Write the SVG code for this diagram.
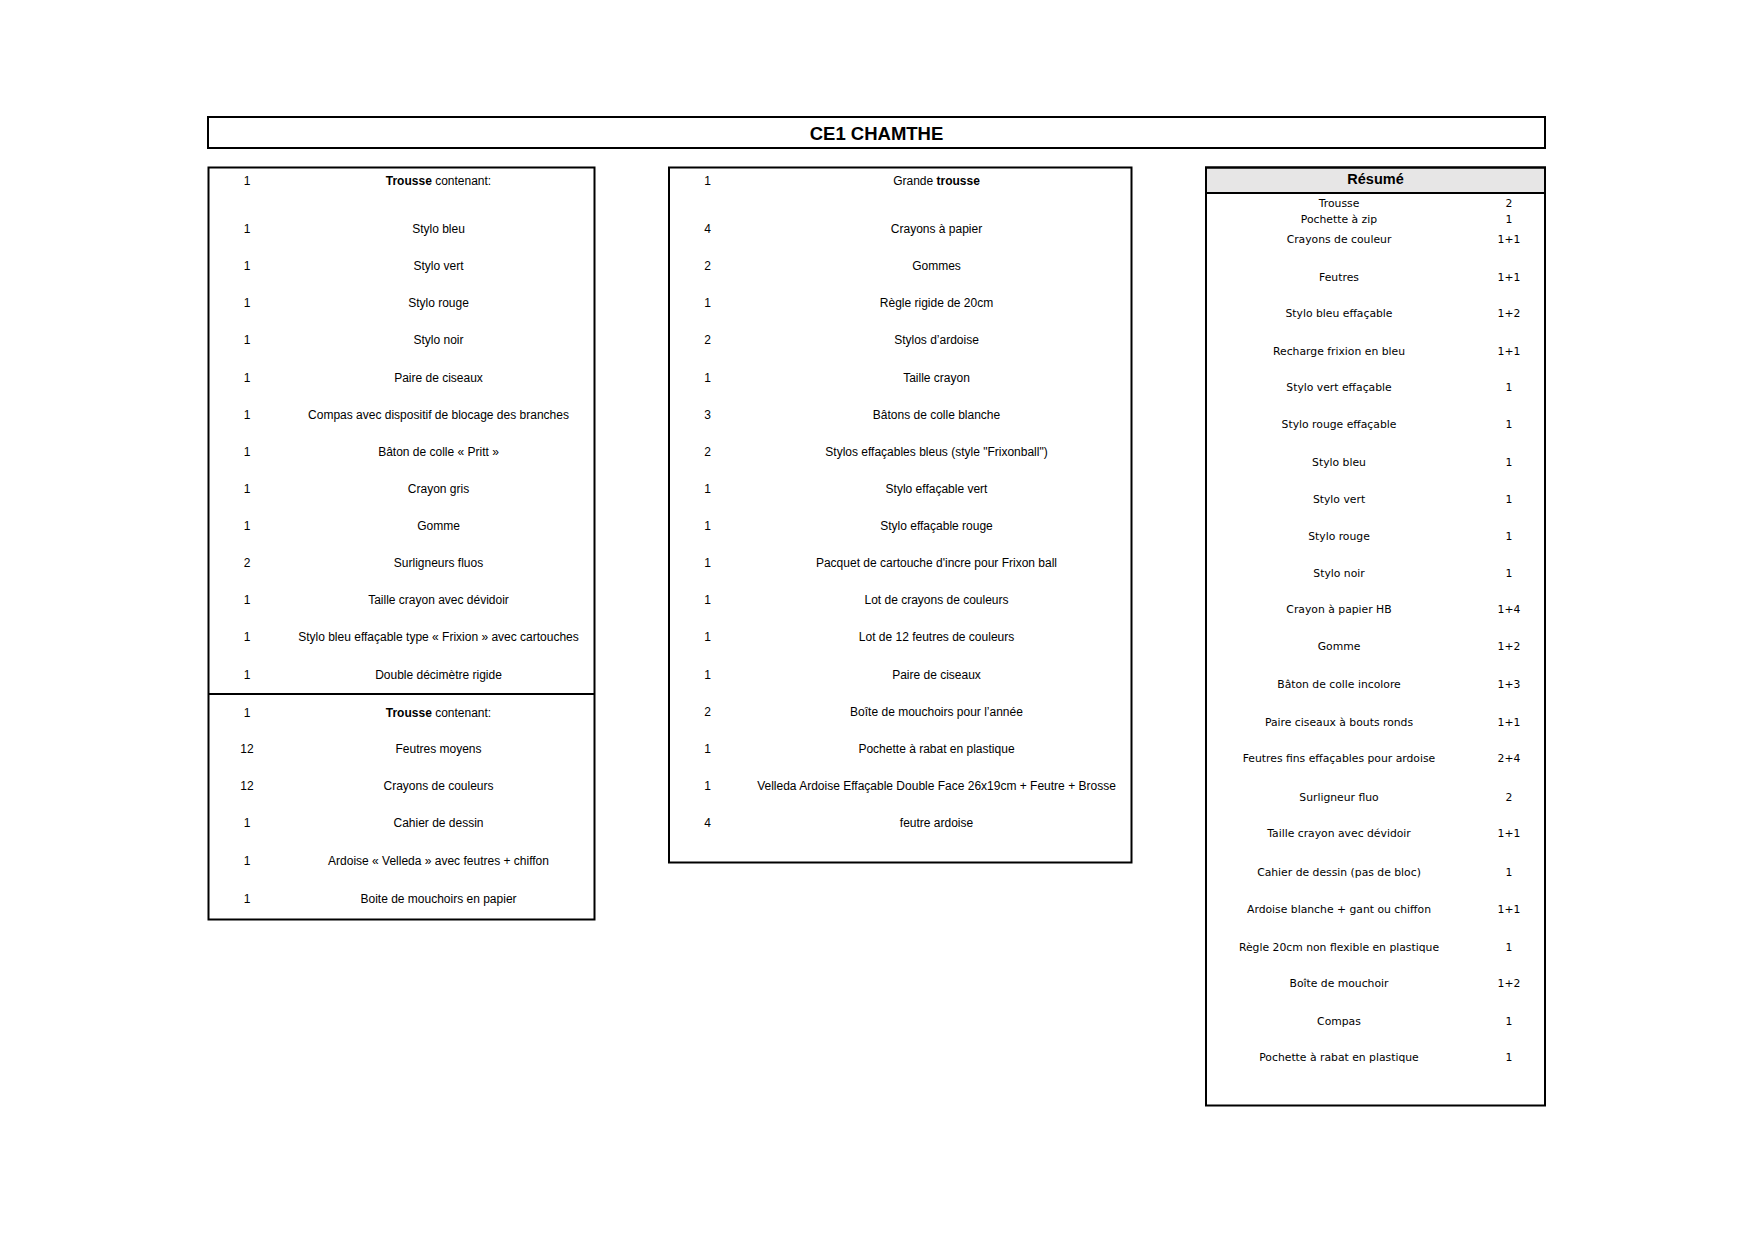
<svg xmlns="http://www.w3.org/2000/svg" width="1755" height="1241" viewBox="0 0 1755 1241">
<style>
.box{fill:none;stroke:#000;stroke-width:2}
.t{font-family:"Liberation Sans",Arial,sans-serif;font-size:12px;fill:#000;text-anchor:middle}
.r{font-family:"DejaVu Sans",sans-serif;font-size:10.8px;fill:#000;text-anchor:middle}
.b{font-weight:bold}
.title{font-family:"Liberation Sans",Arial,sans-serif;font-size:18.5px;font-weight:bold;fill:#000;text-anchor:middle}
.hdr{font-family:"Liberation Sans",Arial,sans-serif;font-size:14.5px;font-weight:bold;fill:#000;text-anchor:middle}
</style>
<rect width="1755" height="1241" fill="#fff"/>
<g id="title">
<rect class="box" x="208" y="117" width="1337" height="31"/>
<text class="title" x="876.5" y="139.5">CE1 CHAMTHE</text>
</g>
<g id="table-left">
<rect class="box" x="208.5" y="167.5" width="386" height="752"/>
<line x1="208.5" y1="694" x2="594.5" y2="694" stroke="#000" stroke-width="2"/>
<g class="t">
<text x="247" y="185">1</text><text x="438.5" y="185"><tspan class="b">Trousse</tspan> contenant:</text>
<text x="247" y="233">1</text><text x="438.5" y="233">Stylo bleu</text>
<text x="247" y="270">1</text><text x="438.5" y="270">Stylo vert</text>
<text x="247" y="307">1</text><text x="438.5" y="307">Stylo rouge</text>
<text x="247" y="344">1</text><text x="438.5" y="344">Stylo noir</text>
<text x="247" y="382">1</text><text x="438.5" y="382">Paire de ciseaux</text>
<text x="247" y="419">1</text><text x="438.5" y="419">Compas avec dispositif de blocage des branches</text>
<text x="247" y="456">1</text><text x="438.5" y="456">Bâton de colle « Pritt »</text>
<text x="247" y="493">1</text><text x="438.5" y="493">Crayon gris</text>
<text x="247" y="530">1</text><text x="438.5" y="530">Gomme</text>
<text x="247" y="567">2</text><text x="438.5" y="567">Surligneurs fluos</text>
<text x="247" y="604">1</text><text x="438.5" y="604">Taille crayon avec dévidoir</text>
<text x="247" y="641">1</text><text x="438.5" y="641">Stylo bleu effaçable type « Frixion » avec cartouches</text>
<text x="247" y="679">1</text><text x="438.5" y="679">Double décimètre rigide</text>
<text x="247" y="717">1</text><text x="438.5" y="717"><tspan class="b">Trousse</tspan> contenant:</text>
<text x="247" y="753">12</text><text x="438.5" y="753">Feutres moyens</text>
<text x="247" y="790">12</text><text x="438.5" y="790">Crayons de couleurs</text>
<text x="247" y="827">1</text><text x="438.5" y="827">Cahier de dessin</text>
<text x="247" y="864.5">1</text><text x="438.5" y="864.5">Ardoise « Velleda » avec feutres + chiffon</text>
<text x="247" y="903">1</text><text x="438.5" y="903">Boite de mouchoirs en papier</text>
</g>
</g>
<g id="table-middle">
<rect class="box" x="669" y="167.5" width="462.5" height="695"/>
<g class="t">
<text x="707.5" y="185">1</text><text x="936.5" y="185">Grande <tspan class="b">trousse</tspan></text>
<text x="707.5" y="233">4</text><text x="936.5" y="233">Crayons à papier</text>
<text x="707.5" y="270">2</text><text x="936.5" y="270">Gommes</text>
<text x="707.5" y="307">1</text><text x="936.5" y="307">Règle rigide de 20cm</text>
<text x="707.5" y="344">2</text><text x="936.5" y="344">Stylos d’ardoise</text>
<text x="707.5" y="382">1</text><text x="936.5" y="382">Taille crayon</text>
<text x="707.5" y="419">3</text><text x="936.5" y="419">Bâtons de colle blanche</text>
<text x="707.5" y="456">2</text><text x="936.5" y="456">Stylos effaçables bleus (style "Frixonball")</text>
<text x="707.5" y="493">1</text><text x="936.5" y="493">Stylo effaçable vert</text>
<text x="707.5" y="530">1</text><text x="936.5" y="530">Stylo effaçable rouge</text>
<text x="707.5" y="567">1</text><text x="936.5" y="567">Pacquet de cartouche d'incre pour Frixon ball</text>
<text x="707.5" y="604">1</text><text x="936.5" y="604">Lot de crayons de couleurs</text>
<text x="707.5" y="641">1</text><text x="936.5" y="641">Lot de 12 feutres de couleurs</text>
<text x="707.5" y="679">1</text><text x="936.5" y="679">Paire de ciseaux</text>
<text x="707.5" y="716">2</text><text x="936.5" y="716">Boîte de mouchoirs pour l’année</text>
<text x="707.5" y="753">1</text><text x="936.5" y="753">Pochette à rabat en plastique</text>
<text x="707.5" y="790">1</text><text x="936.5" y="790">Velleda Ardoise Effaçable Double Face 26x19cm + Feutre + Brosse</text>
<text x="707.5" y="827">4</text><text x="936.5" y="827">feutre ardoise</text>
</g>
</g>
<g id="resume">
<rect x="1206" y="167.5" width="339" height="25.5" fill="#e7e6e6" stroke="#000" stroke-width="2"/>
<text class="hdr" x="1375.5" y="184">Résumé</text>
<rect class="box" x="1206" y="167.5" width="339" height="938"/>
<g class="r">
<text x="1339" y="206.7">Trousse</text><text x="1509" y="206.7">2</text>
<text x="1339" y="223.3">Pochette à zip</text><text x="1509" y="223.3">1</text>
<text x="1339" y="243.3">Crayons de couleur</text><text x="1509" y="243.3">1+1</text>
<text x="1339" y="280.7">Feutres</text><text x="1509" y="280.7">1+1</text>
<text x="1339" y="316.7">Stylo bleu effaçable</text><text x="1509" y="316.7">1+2</text>
<text x="1339" y="354.7">Recharge frixion en bleu</text><text x="1509" y="354.7">1+1</text>
<text x="1339" y="390.5">Stylo vert effaçable</text><text x="1509" y="390.5">1</text>
<text x="1339" y="428">Stylo rouge effaçable</text><text x="1509" y="428">1</text>
<text x="1339" y="465.7">Stylo bleu</text><text x="1509" y="465.7">1</text>
<text x="1339" y="503">Stylo vert</text><text x="1509" y="503">1</text>
<text x="1339" y="540">Stylo rouge</text><text x="1509" y="540">1</text>
<text x="1339" y="576.7">Stylo noir</text><text x="1509" y="576.7">1</text>
<text x="1339" y="613">Crayon à papier HB</text><text x="1509" y="613">1+4</text>
<text x="1339" y="650.3">Gomme</text><text x="1509" y="650.3">1+2</text>
<text x="1339" y="688.3">Bâton de colle incolore</text><text x="1509" y="688.3">1+3</text>
<text x="1339" y="725.7">Paire ciseaux à bouts ronds</text><text x="1509" y="725.7">1+1</text>
<text x="1339" y="762.3">Feutres fins effaçables pour ardoise</text><text x="1509" y="762.3">2+4</text>
<text x="1339" y="800.7">Surligneur fluo</text><text x="1509" y="800.7">2</text>
<text x="1339" y="837.3">Taille crayon avec dévidoir</text><text x="1509" y="837.3">1+1</text>
<text x="1339" y="875.7">Cahier de dessin (pas de bloc)</text><text x="1509" y="875.7">1</text>
<text x="1339" y="913.3">Ardoise blanche  + gant  ou chiffon</text><text x="1509" y="913.3">1+1</text>
<text x="1339" y="950.7">Règle 20cm non flexible en plastique</text><text x="1509" y="950.7">1</text>
<text x="1339" y="987.3">Boîte de mouchoir</text><text x="1509" y="987.3">1+2</text>
<text x="1339" y="1025">Compas</text><text x="1509" y="1025">1</text>
<text x="1339" y="1060.7">Pochette à rabat en plastique</text><text x="1509" y="1060.7">1</text>
</g>
</g>
</svg>
